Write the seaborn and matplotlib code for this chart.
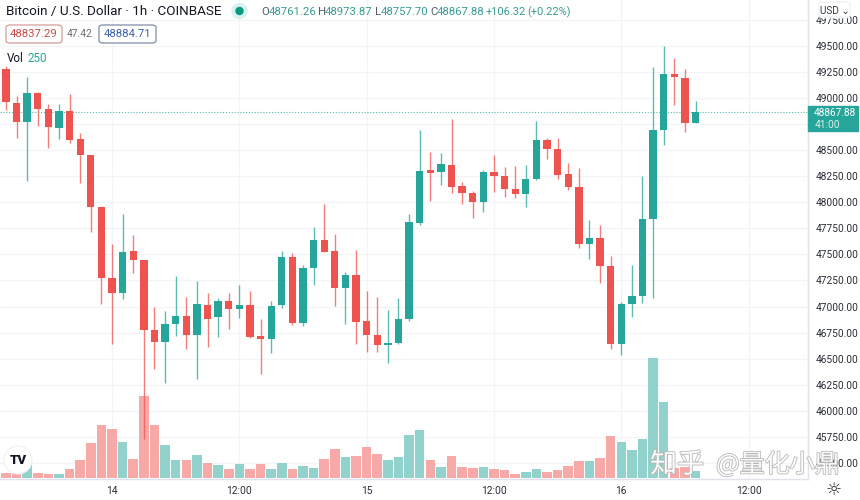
import matplotlib
matplotlib.use('Agg')
import matplotlib.pyplot as plt
import matplotlib.patheffects as pe
from matplotlib.patches import Ellipse, FancyBboxPatch, Rectangle
import numpy as np
import pandas as pd
import seaborn as sns

# hourly candles
opens = [49276,48956,48767,49052,48895,48710,48879,48604,48457,47957,47270,47132,47529,47446,46774,46658,46828,46911,46723,47014,
         46895,47055,46972,47016,46713,46684,47014,47477,46844,47366,47635,47535,47180,47302,46863,46726,46627,46652,46876,47804,
         48307,48288,48360,48153,48089,48005,48288,48255,48130,48076,48223,48595,48514,48271,48143,47599,47654,47391,46636,47020,
         47103,47839,48696,49234,49196,48761.26]
highs = [49308,49020,49205,49060,48943,48943,49036,48668,48457,47957,47596,47884,47688,47446,46997,46959,47292,47087,47241,47126,
         47078,47126,47206,47148,46882,47055,47535,47516,47398,47760,47983,47695,47330,47542,47151,47093,46966,47084,47887,48694,
         48480,48470,48796,48197,48111,48310,48454,48341,48348,48358,48783,48614,48620,48374,48326,47830,47782,47484,47045,47395,
         48255,49301,49500,49388,49276,48973.87]
lows = [48886,48617,48207,48735,48524,48607,48566,48188,47711,47020,46642,47068,47318,45727,46396,46268,46719,46588,46303,46607,
        46703,46786,46886,46700,46348,46556,46988,46822,46812,47206,47520,47004,46831,46636,46565,46565,46454,46645,46863,47785,
        48015,48163,48086,47983,47852,47903,48101,48053,48038,47957,48215,48412,48220,48118,47558,47452,47222,46588,46531,46901,
        47036,47084,48550,48934,48677,48757.70]
closes = [48960,48773,49052,48895,48720,48879,48598,48454,47957,47270,47132,47520,47446,46774,46658,46828,46911,46723,47023,46882,
          47055,46972,47016,46706,46684,47007,47477,46844,47369,47635,47525,47180,47302,46853,46723,46630,46652,46879,47807,48303,
          48284,48370,48149,48086,48005,48288,48252,48127,48076,48223,48593,48511,48262,48143,47599,47654,47388,46636,47020,47103,
          47839,48696,49234,49199,48758,48867.88]
volumes = [170,170,500,180,155,145,335,660,1270,1900,1775,1305,695,2950,1900,1175,660,660,815,540,
           455,315,495,335,495,335,540,315,420,360,695,1035,755,790,1115,855,660,755,1560,1715,
           650,405,790,385,350,405,325,290,155,225,315,205,290,430,610,625,730,1510,1285,1010,
           1405,4320,2745,360,395,250]
hour_ticks = [10, 22, 34, 46, 58, 70]
hour_labels = ['14', '12:00', '15', '12:00', '16', '12:00']
price_ticks = list(range(45500, 50000, 250))
last_price = 48867.88

up_color = '#26a69a'
down_color = '#ef5350'
text_color = '#131722'

sns.set_theme(style='white')
plt.rcParams['font.family'] = ['Roboto', 'DejaVu Sans']

df = pd.DataFrame({'hour': range(len(opens)), 'open': opens, 'high': highs, 'low': lows,
                   'close': closes, 'volume': volumes})
df['dir'] = np.where(df['close'] >= df['open'], 'up', 'down')

W, H = 860, 500
fig = plt.figure(figsize=(W / 100, H / 100), dpi=100, facecolor='white')
pos = [0, 21 / H, 808 / W, 479 / H]

# volume pane sits behind the candles
ax_vol = fig.add_axes(pos)
sns.barplot(data=df, x='hour', y='volume', hue='dir', hue_order=['up', 'down'],
            palette={'up': '#92d2cc', 'down': '#f7a9a7'}, native_scale=True, dodge=False,
            width=0.9, saturation=1, legend=False, linewidth=0, ax=ax_vol)
ax_vol.set_xlim(-0.56, 75.6)
ax_vol.set_ylim(-36, 17200)
ax_vol.set_yticks([])
ax_vol.set_xlabel('')
ax_vol.set_ylabel('')
ax_vol.set_xticks(hour_ticks)
ax_vol.set_xticklabels(hour_labels, color='#2a2e39', fontsize=7.4)
ax_vol.tick_params(axis='x', length=0, pad=5)

ax = fig.add_axes(pos, sharex=ax_vol)
ax.patch.set_alpha(0)
ax.set_ylim(45345, 49941)
ax.yaxis.tick_right()
ax.set_yticks(price_ticks)
# 48750 sits under the last price tag, so it gets no label
ax.set_yticklabels(['' if p == 48750 else '%.2f' % p for p in price_ticks], color='#2a2e39', fontsize=7.3)
ax.tick_params(axis='y', length=0, pad=5.6)
ax.tick_params(axis='x', length=0, labelbottom=False)
ax.set_xlabel('')

# grid goes on the bottom pane so it stays behind the volume bars
for p in price_ticks:
    ax_vol.axhline((p - 45345) / (49941 - 45345) * (17200 + 36) - 36, color='#f2f4f8', lw=0.9, zorder=0)
for h in hour_ticks:
    ax_vol.axvline(h, color='#f2f4f8', lw=0.9, zorder=0)
ax_vol.set_axisbelow(True)

for a in (ax_vol, ax):
    for side in ('top', 'left'):
        a.spines[side].set_visible(False)
    for side in ('right', 'bottom'):
        a.spines[side].set_color('#e0e3eb')
        a.spines[side].set_linewidth(0.9)

# candles
colors = df['dir'].map({'up': up_color, 'down': down_color})
ax.vlines(df['hour'], df['low'], df['high'], colors=colors, lw=1.0, alpha=0.75, zorder=2)
ax.bar(df['hour'], (df['close'] - df['open']).abs(), bottom=df[['open', 'close']].min(axis=1),
       width=0.69, color=colors, linewidth=0, zorder=3)
ax.axhline(last_price, color=up_color, lw=0.8, ls=(0, (1, 1.6)), alpha=0.8, zorder=1)

# last price tag on the scale
ax.add_patch(Rectangle((1.0, 48684), 50 / 808, 240, transform=ax.get_yaxis_transform(),
                       color=up_color, clip_on=False, zorder=6))
fig.text(834.5 / W, 1 - 113 / H, '%.2f' % last_price, color='white', fontsize=7.3,
         ha='center', va='center', zorder=8)
fig.text(815 / W, 1 - 124.5 / H, '41:00', color='#d6f0ed', fontsize=7.3,
         ha='left', va='center', zorder=8)

# header
fig.text(6 / W, 1 - 11 / H, 'Bitcoin / U.S. Dollar · 1h · COINBASE', color=text_color, fontsize=9.7,
         va='center', zorder=8)
fig.add_artist(Ellipse((239.5 / W, 1 - 11 / H), 15 / W, 15 / H, color='#d9f2ef', zorder=7))
fig.add_artist(Ellipse((239.5 / W, 1 - 11 / H), 7 / W, 7 / H, color='#089981', zorder=8))
ohlc = [('O', '48761.26', 261, 269), ('H', '48973.87', 318, 325), ('L', '48757.70', 375, 381), ('C', '48867.88', 430, 437)]
for name, val, x, xval in ohlc:
    fig.text(x / W, 1 - 12 / H, name, color='#555b66', fontsize=8.2, va='center', zorder=8)
    fig.text(xval / W, 1 - 12 / H, val, color='#3a9c92', fontsize=8.2, va='center', zorder=8)
fig.text(486 / W, 1 - 12 / H, '+106.32', color='#3a9c92', fontsize=7.9, va='center', zorder=8)
fig.text(527 / W, 1 - 12 / H, '(+0.22%)', color='#3a9c92', fontsize=7.9, va='center', zorder=8)

fig.add_artist(FancyBboxPatch((6 / W, 1 - 43 / H), 56 / W, 18 / H, boxstyle='round,pad=0,rounding_size=0.005',
                              fc='white', ec='#d9a6a3', lw=1, zorder=7))
fig.text(34 / W, 1 - 34 / H, '48837.29', color='#c0504d', fontsize=8.2, ha='center', va='center', zorder=8)
fig.text(80 / W, 1 - 34 / H, '47.42', color='#6a6d78', fontsize=7.4, ha='center', va='center', zorder=8)
fig.add_artist(FancyBboxPatch((99 / W, 1 - 43 / H), 57 / W, 18 / H, boxstyle='round,pad=0,rounding_size=0.005',
                              fc='white', ec='#8b98ad', lw=1, zorder=7))
fig.text(127.5 / W, 1 - 34 / H, '48884.71', color='#3f62a8', fontsize=8.2, ha='center', va='center', zorder=8)
fig.text(7 / W, 1 - 58 / H, 'Vol', color=text_color, fontsize=8.4, va='center', zorder=8)
fig.text(28 / W, 1 - 58 / H, '250', color=up_color, fontsize=8.4, va='center', zorder=8)

# currency button covers the top tick
fig.add_artist(FancyBboxPatch((819 / W, 1 - 18 / H), 31 / W, 16 / H, boxstyle='round,pad=0,rounding_size=0.005',
                              fc='white', ec='#eceef2', lw=0.8, alpha=0.92, zorder=7))
fig.text(834.5 / W, 1 - 11 / H, 'USD ⌄', color='#333a45', fontsize=7.2, ha='center', va='center',
         family=['Roboto', 'DejaVu Sans'], zorder=8)

# logo, sun icon, watermark
fig.add_artist(Ellipse((18 / W, 1 - 460 / H), 28 / W, 28 / H, fc='white', ec='#f0f1f4', lw=0.8, zorder=7))
fig.text(18.5 / W, 1 - 460 / H, 'TV', color='#131722', fontsize=9.5, fontweight='black', ha='center',
         va='center', zorder=8)
fig.text(834 / W, 1 - 490.5 / H, '☼', color='#2a2e39', fontsize=13, ha='center', va='center',
         family='DejaVu Sans', zorder=8)
stroke = [pe.withStroke(linewidth=1.2, foreground='#b5b5b5')]
fig.text(650 / W, 1 - 465 / H, '知乎', color='white', fontsize=19.5, va='center', alpha=0.95,
         family=['Noto Sans CJK SC', 'DejaVu Sans'], zorder=9, path_effects=stroke)
fig.text(716 / W, 1 - 465 / H, '@量化小鼎', color='white', fontsize=18, va='center', alpha=0.95,
         family=['Noto Sans CJK SC', 'DejaVu Sans'], zorder=9, path_effects=stroke)

fig.savefig('out.png', dpi=100)
